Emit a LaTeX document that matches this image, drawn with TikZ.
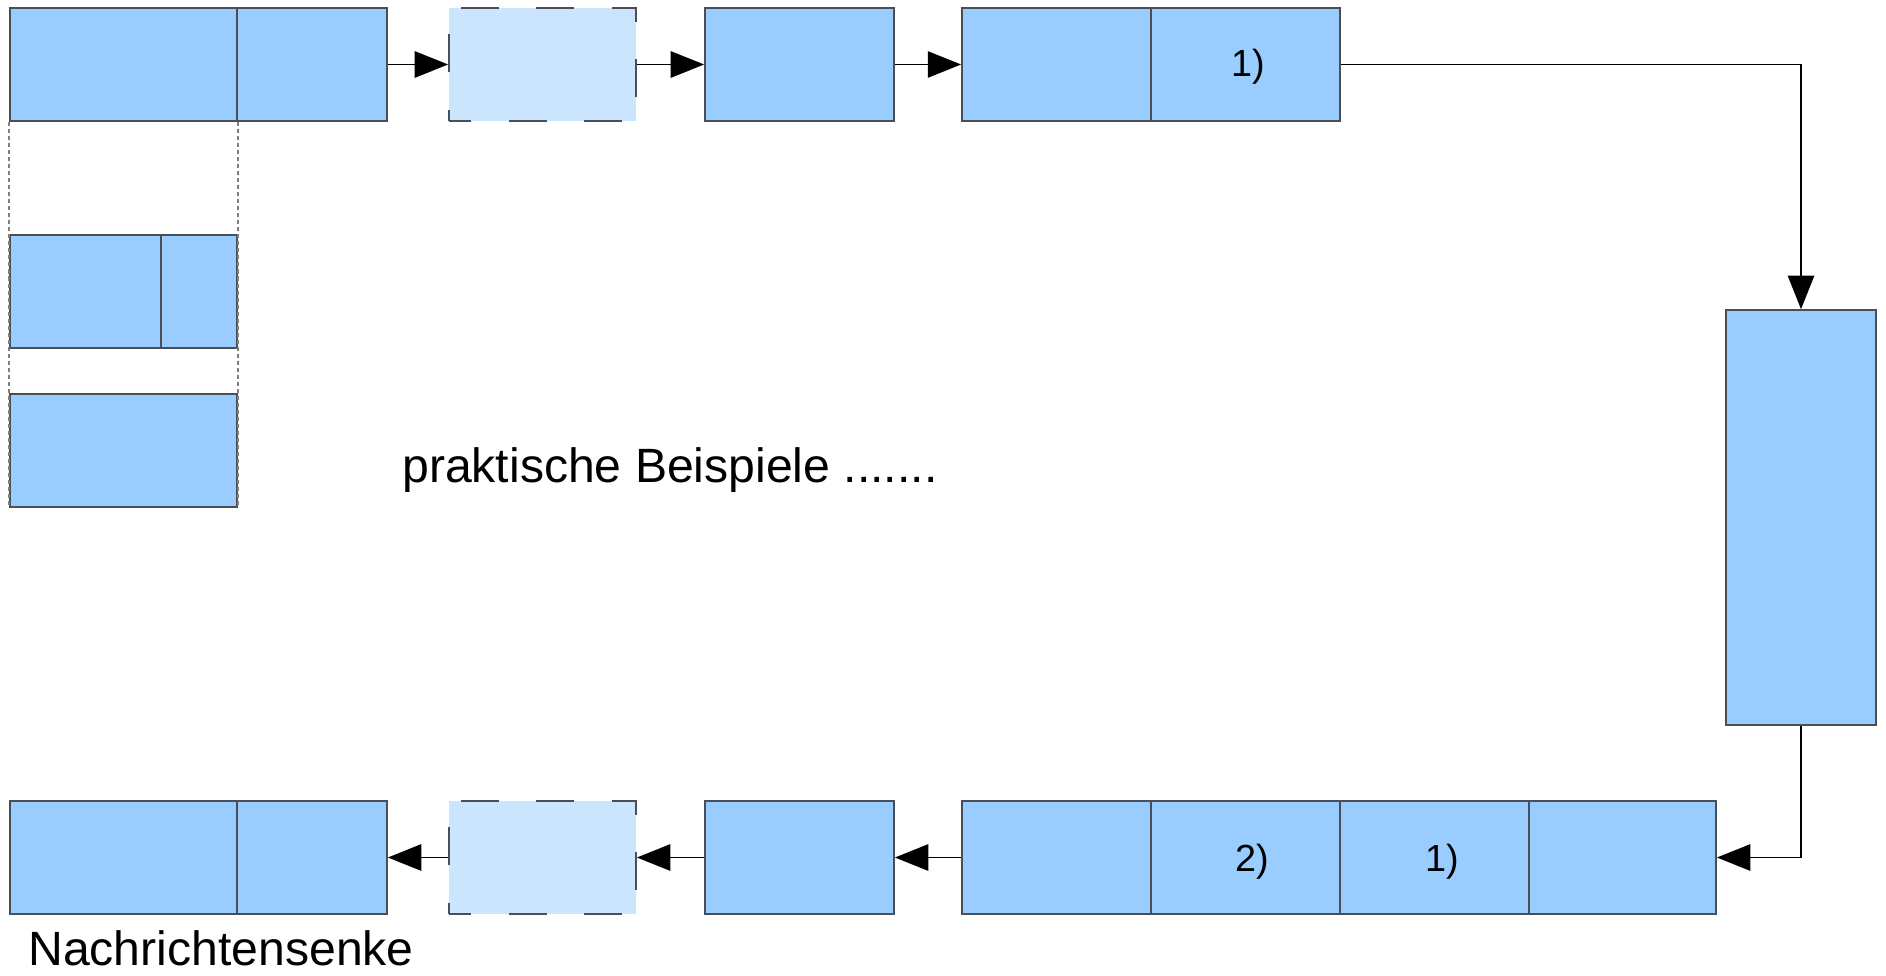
\documentclass[tikz,border=0pt]{standalone}
\usepackage{fontspec}
\setmainfont{Liberation Sans}
\usetikzlibrary{fit,arrows.meta}
\definecolor{cellblue}{HTML}{99CCFF}
\definecolor{paleblue}{HTML}{CCE5FF}
\definecolor{edgegray}{HTML}{4A4F57}
\definecolor{guidegray}{HTML}{7F7F7F}
\begin{document}
\begin{tikzpicture}[x=0.02cm,y=-0.02cm,
  cell/.style={draw=edgegray, line width=1pt, fill=cellblue, inner sep=0pt},
  ghost/.style={draw=edgegray, line width=1pt, fill=paleblue, inner sep=0pt,
    dash pattern=on 21.5pt off 21.5pt, dash phase=9pt},
  flow/.style={draw=black, line width=0.85pt, -{Triangle[length=19pt,width=15pt]}},
  guide/.style={draw=guidegray, line width=0.8pt, dash pattern=on 2.3pt off 1.7pt},
  tag/.style={font=\fontsize{21.5}{25}\selectfont, inner sep=0pt, anchor=base},
  caption/.style={font=\fontsize{27.4}{32}\selectfont, inner sep=0pt, anchor=base west}]
\useasboundingbox (0,0) rectangle (1886,976);

% top row
\node[cell, fit={(10,8) (237,121)}] (A1) {};
\node[cell, fit={(237,8) (387,121)}] (A2) {};
\node[ghost, fit={(449,8) (636,121)}] (B) {};
\node[cell, fit={(705,8) (894,121)}] (C) {};
\node[cell, fit={(962,8) (1151,121)}] (D1) {};
\node[cell, fit={(1151,8) (1340,121)}] (D2) {};
\node[tag] (D2tag) at (1248,77) {1)};

% right column
\node[cell, fit={(1726,310) (1876,725)}] (E) {};

% bottom row
\node[cell, fit={(962,801) (1151,914)}] (F1) {};
\node[cell, fit={(1151,801) (1340,914)}] (F2) {};
\node[cell, fit={(1340,801) (1529,914)}] (F3) {};
\node[cell, fit={(1529,801) (1716,914)}] (F4) {};
\node[tag] (F2tag) at (1252,871) {2)};
\node[tag] (F3tag) at (1442,871) {1)};
\node[cell, fit={(705,801) (894,914)}] (G) {};
\node[ghost, fit={(449,801) (636,914)}] (H) {};
\node[cell, fit={(10,801) (237,914)}] (I1) {};
\node[cell, fit={(237,801) (387,914)}] (I2) {};

% left column below the first cell
\node[cell, fit={(10,235) (161,348)}] (J1) {};
\node[cell, fit={(161,235) (237,348)}] (J2) {};
\node[cell, fit={(10,394) (237,507)}] (K) {};
\draw[guide] (A1.south west) -- (K.south west);
\draw[guide] (A1.south east) -- (K.south east);

% connectors
\draw[flow] (A2.east) -- (B.west);
\draw[flow] (B.east) -- (C.west);
\draw[flow] (C.east) -- (D1.west);
\draw[flow] (D2.east) -| (E.north);
\draw[flow] (E.south) |- (F4.east);
\draw[flow] (F1.west) -- (G.east);
\draw[flow] (G.west) -- (H.east);
\draw[flow] (H.west) -- (I2.east);

% texts
\node[caption] (examples) at (402,482) {praktische Beispiele .......};
\node[caption] (sink) at (28,965) {Nachrichtensenke};
\end{tikzpicture}
\end{document}
